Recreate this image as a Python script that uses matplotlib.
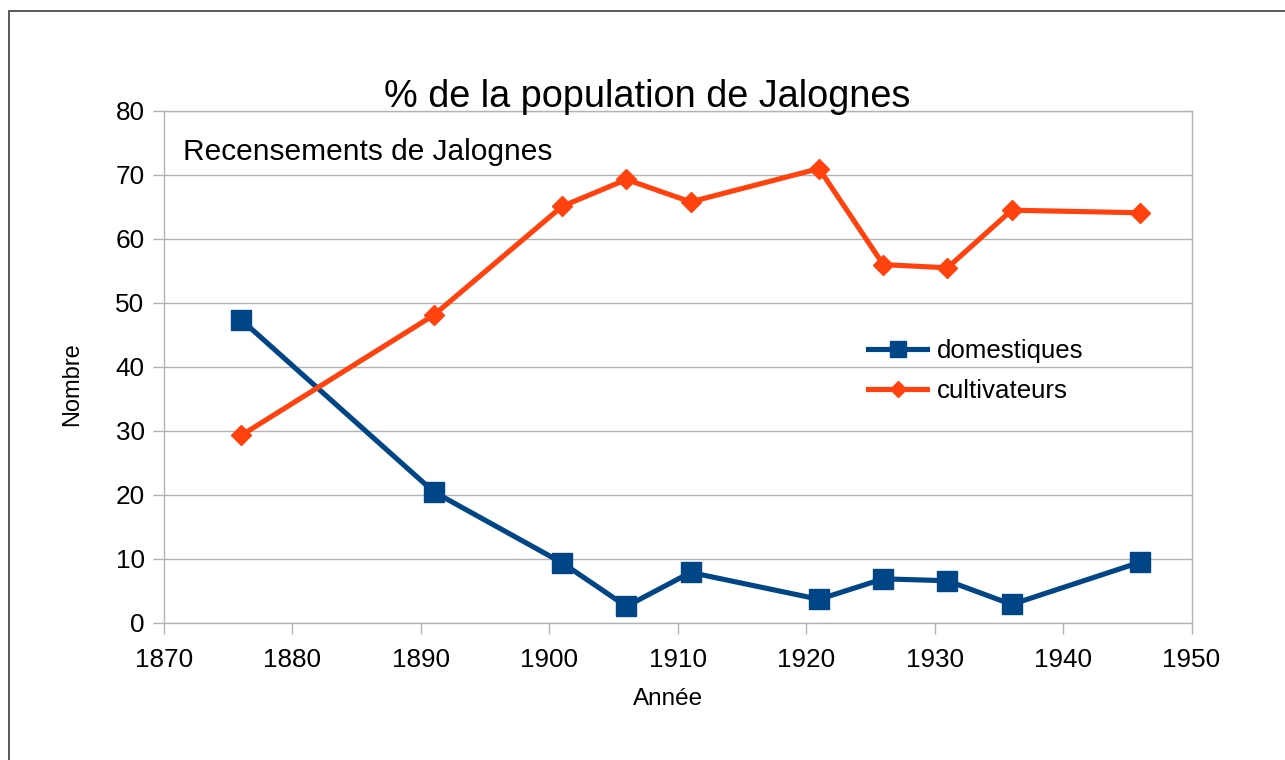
import matplotlib
matplotlib.use("Agg")
import matplotlib.pyplot as plt
from matplotlib.patches import Rectangle

# census years and shares (%)
years = [1876, 1891, 1901, 1906, 1911, 1921, 1926, 1931, 1936, 1946]
domestiques = [47.4, 20.5, 9.4, 2.6, 7.9, 3.7, 6.9, 6.6, 2.9, 9.5]
cultivateurs = [29.3, 48.1, 65.1, 69.3, 65.8, 71.0, 56.0, 55.5, 64.5, 64.1]

x_ticks = [1870, 1880, 1890, 1900, 1910, 1920, 1930, 1940, 1950]
y_ticks = [0, 10, 20, 30, 40, 50, 60, 70, 80]

BLUE = "#004586"
ORANGE = "#ff420e"
GREY = "#b3b3b3"

W, H = 1285, 760
plt.rcParams["font.family"] = ["Liberation Sans", "DejaVu Sans"]

fig = plt.figure(figsize=(W / 100, H / 100), dpi=100)
# plot area in pixels: left 164, right 1191.5, top 111, bottom 623
ax = fig.add_axes([164 / W, 1 - 623 / H, (1191.5 - 164) / W, (623 - 111) / H])

# outer frame of the chart (only left/top edges visible in the reference)
fig.patches.append(Rectangle((9 / W, -0.1), 1.2, 1 - 11 / H + 0.1,
                             transform=fig.transFigure, fill=False,
                             edgecolor="#3c3c3c", linewidth=1.2))

ax.plot(years, domestiques, color=BLUE, linewidth=3.7, marker="s",
        markersize=14, label="domestiques", zorder=3)
ax.plot(years, cultivateurs, color=ORANGE, linewidth=3.7, marker="D",
        markersize=9.8, label="cultivateurs", zorder=3)

ax.set_xlim(1870, 1950)
ax.set_ylim(0, 80)
ax.set_xticks(x_ticks)
ax.set_yticks(y_ticks)
ax.grid(axis="y", color=GREY, linewidth=1.0)
ax.set_axisbelow(True)
for s in ax.spines.values():
    s.set_color(GREY)
    s.set_linewidth(1.0)
ax.tick_params(axis="both", colors=GREY, labelcolor="black", labelsize=18.8,
               length=8, width=1.0)
ax.tick_params(axis="x", pad=10)
ax.tick_params(axis="y", pad=6)

fig.text(647 / W, 1 - 107 / H, "% de la population de Jalognes",
         fontsize=27.3, ha="center", va="baseline")
fig.text(183 / W, 1 - 160 / H, "Recensements de Jalognes",
         fontsize=21.5, ha="left", va="baseline")
fig.text(72 / W, 1 - 384 / H, "Nombre", fontsize=17, rotation=90,
         ha="center", va="center")
fig.text(668 / W, 1 - 705 / H, "Année", fontsize=17.5,
         ha="center", va="baseline")

ax.legend(loc="center left", bbox_to_anchor=(868 / W, 1 - 371 / H),
          bbox_transform=fig.transFigure, frameon=False, fontsize=18.6,
          borderpad=0, borderaxespad=0, handlelength=2.3,
          handletextpad=0.35, labelspacing=0.65, markerscale=0.85)

fig.savefig("out.png", dpi=100)
